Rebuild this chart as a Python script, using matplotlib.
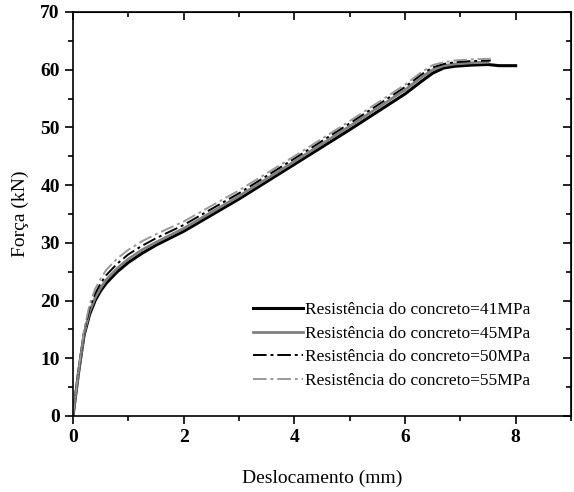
import matplotlib
matplotlib.use("Agg")
import matplotlib.pyplot as plt
from matplotlib.ticker import MultipleLocator

plt.rcParams['font.family'] = ['Liberation Serif', 'DejaVu Serif']

labels = ["Resistência do concreto=41MPa", "Resistência do concreto=45MPa",
          "Resistência do concreto=50MPa", "Resistência do concreto=55MPa"]

x41 = [0, 0.1, 0.2, 0.3, 0.4, 0.5, 0.6, 0.8, 1.0, 1.25, 1.5, 2.0, 3.0, 4.0, 5.0, 6.0, 6.3, 6.5, 6.7, 6.9, 7.2, 7.5, 7.7, 8.0]
y41 = [0, 7.5, 14.0, 17.6, 20.0, 21.7, 23.0, 25.0, 26.6, 28.2, 29.6, 32.0, 37.6, 43.6, 49.6, 55.8, 58.0, 59.4, 60.3, 60.6, 60.8, 60.9, 60.7, 60.7]

x45 = [0, 0.1, 0.2, 0.3, 0.4, 0.5, 0.6, 0.8, 1.0, 1.25, 1.5, 2.0, 3.0, 4.0, 5.0, 6.0, 6.3, 6.5, 6.7, 6.9, 7.2, 7.5]
y45 = [0, 7.6, 14.3, 18.1, 20.5, 22.2, 23.6, 25.6, 27.2, 28.8, 30.1, 32.5, 38.1, 44.1, 50.2, 56.5, 58.7, 60.0, 60.7, 61.0, 61.2, 61.3]

x50 = [0, 0.1, 0.2, 0.3, 0.4, 0.5, 0.6, 0.8, 1.0, 1.25, 1.5, 2.0, 3.0, 4.0, 5.0, 6.0, 6.3, 6.5, 6.7, 6.9, 7.2, 7.55]
y50 = [0, 7.7, 14.6, 18.7, 21.2, 23.0, 24.4, 26.4, 28.0, 29.5, 30.8, 33.1, 38.6, 44.6, 50.7, 57.0, 59.2, 60.4, 61.0, 61.3, 61.5, 61.6]

x55 = [0, 0.1, 0.2, 0.3, 0.4, 0.5, 0.6, 0.8, 1.0, 1.25, 1.5, 2.0, 3.0, 4.0, 5.0, 6.0, 6.3, 6.5, 6.7, 6.9, 7.2, 7.55]
y55 = [0, 7.8, 14.9, 19.3, 22.0, 23.8, 25.3, 27.3, 28.8, 30.3, 31.5, 33.7, 39.1, 45.0, 51.1, 57.4, 59.6, 60.8, 61.3, 61.6, 61.8, 61.9]

series = [(x41, y41), (x45, y45), (x50, y50), (x55, y55)]
styles = [dict(color='black', lw=2.2, ls='-'),
          dict(color='#808080', lw=2.0, ls='-'),
          dict(color='black', lw=1.4, ls=(0, (7, 2, 1.5, 2))),
          dict(color='#999999', lw=1.4, ls=(0, (7, 2, 1.5, 2)))]

fig = plt.figure(figsize=(5.74, 4.92), dpi=100)
ax = fig.add_axes([73/574, 1-416/492, (571-73)/574, (416-12)/492])

for (xs, ys), st, lab in zip(series, styles, labels):
    ax.plot(xs, ys, label=lab, **st)

ax.set_xlim(0, 9)
ax.set_ylim(0, 70)
ax.xaxis.set_major_locator(MultipleLocator(2))
ax.xaxis.set_minor_locator(MultipleLocator(1))
ax.yaxis.set_major_locator(MultipleLocator(10))
ax.yaxis.set_minor_locator(MultipleLocator(5))
ax.tick_params(which='both', direction='out', top=False, right=False, width=1.2)
ax.tick_params(which='major', length=6)
ax.tick_params(which='minor', length=3.5)
sec_x = ax.secondary_xaxis('top')
sec_x.xaxis.set_major_locator(MultipleLocator(2))
sec_x.xaxis.set_minor_locator(MultipleLocator(1))
sec_x.tick_params(which='both', direction='in', labeltop=False, width=1.2)
sec_x.tick_params(which='major', length=6)
sec_x.tick_params(which='minor', length=3.5)
sec_y = ax.secondary_yaxis('right')
sec_y.yaxis.set_major_locator(MultipleLocator(10))
sec_y.yaxis.set_minor_locator(MultipleLocator(5))
sec_y.tick_params(which='both', direction='in', labelright=False, width=1.2)
sec_y.tick_params(which='major', length=6)
sec_y.tick_params(which='minor', length=3.5)

for s in ax.spines.values():
    s.set_linewidth(1.2)

for lbl in ax.get_xticklabels() + ax.get_yticklabels():
    lbl.set_fontweight('bold')
    lbl.set_fontsize(14)

ax.set_xlabel("Deslocamento (mm)", fontsize=14, labelpad=17)
ax.set_ylabel("Força (kN)", fontsize=14, labelpad=8)

ax.legend(loc='upper left', bbox_to_anchor=(0.361, 0.283), frameon=False, fontsize=12.5,
          handlelength=2.9, handletextpad=0.1, labelspacing=0.44,
          borderaxespad=0, borderpad=0)

fig.savefig("out.png", dpi=100)
